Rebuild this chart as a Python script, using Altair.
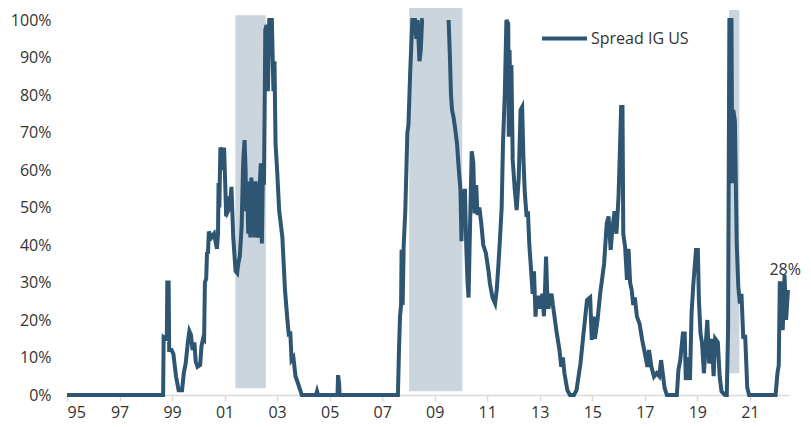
import altair as alt
import pandas as pd

# ---- data ----
seg1_year = [1995.0, 1998.66, 1998.68, 1998.80, 1998.82, 1998.87, 1998.89, 1998.98, 1999.05, 1999.15,
             1999.25, 1999.38, 1999.45, 1999.52, 1999.60, 1999.66, 1999.72, 1999.78, 1999.85, 1999.90,
             1999.97, 2000.07, 2000.12, 2000.18, 2000.22, 2000.25, 2000.30, 2000.33, 2000.37, 2000.40,
             2000.50, 2000.60, 2000.68, 2000.71, 2000.75, 2000.77, 2000.80, 2000.84, 2000.90, 2000.95,
             2000.98, 2001.03, 2001.06, 2001.10, 2001.13, 2001.20, 2001.26, 2001.30, 2001.33, 2001.38,
             2001.42, 2001.48, 2001.52, 2001.58, 2001.65, 2001.70, 2001.72, 2001.76, 2001.80, 2001.82,
             2001.86, 2001.90, 2001.94, 2001.98, 2002.02, 2002.06, 2002.10, 2002.14, 2002.18, 2002.22,
             2002.27, 2002.33, 2002.38, 2002.42, 2002.46, 2002.50, 2002.53, 2002.55, 2002.60, 2002.65,
             2002.70, 2002.80, 2002.86, 2002.90, 2002.94, 2003.00, 2003.08, 2003.15, 2003.20, 2003.25,
             2003.30, 2003.38, 2003.45, 2003.50, 2003.55, 2003.62, 2003.70, 2003.80, 2003.94, 2004.48,
             2004.52, 2004.56, 2005.30, 2005.32, 2005.36, 2005.38, 2007.60, 2007.64, 2007.68, 2007.72,
             2007.74, 2007.78, 2007.82, 2007.88, 2007.93, 2007.96, 2008.00, 2008.07, 2008.12, 2008.15,
             2008.25, 2008.30, 2008.35, 2008.42, 2008.47, 2008.52, 2008.58]
seg1_val = [0, 0, 15.5, 15, 30, 30, 12, 12, 11, 5,
            1.3, 1.3, 6, 8.5, 14, 17, 16, 12, 14, 9,
            7.5, 8, 13, 15, 14.7, 30, 31, 37.8, 38, 43.6,
            42, 43, 40, 39, 43, 56.5, 50, 66, 65, 60,
            66, 55, 47.6, 53, 49, 50, 55.5, 48, 42, 37,
            33, 32.5, 35, 37, 45, 60, 63.5, 68, 60, 49,
            57, 43, 55, 42, 58, 46, 54, 42, 57, 44,
            42, 55, 61.8, 40.4, 60, 56, 80, 97.3, 98.7, 81,
            100, 100, 81, 89, 67, 60, 49, 45, 42, 35,
            28, 21, 15.6, 17, 9.3, 10, 5, 3, 0, 0,
            1, 0, 0, 5.3, 3, 0, 0, 12, 21, 24,
            38.7, 24, 40, 49, 62, 70, 72, 86.7, 95, 100,
            100, 95, 100, 89, 92, 100, 100]

seg2_year = [2009.53, 2009.58, 2009.62, 2009.66, 2009.72, 2009.78, 2009.85, 2009.92, 2009.98, 2010.02,
             2010.06, 2010.10, 2010.15, 2010.20, 2010.25, 2010.29, 2010.33, 2010.41, 2010.47, 2010.52,
             2010.58, 2010.63, 2010.70, 2010.77, 2010.85, 2010.95, 2011.05, 2011.10, 2011.20, 2011.30,
             2011.36, 2011.42, 2011.48, 2011.55, 2011.60, 2011.67, 2011.73, 2011.80, 2011.82, 2011.85,
             2011.88, 2011.92, 2011.97, 2012.05, 2012.12, 2012.20, 2012.27, 2012.33, 2012.38, 2012.43,
             2012.50, 2012.55, 2012.60, 2012.67, 2012.73, 2012.78, 2012.84, 2012.88, 2012.92, 2012.97,
             2013.03, 2013.10, 2013.16, 2013.20, 2013.24, 2013.28, 2013.33, 2013.38, 2013.45, 2013.50,
             2013.56, 2013.63, 2013.75, 2013.82, 2013.88, 2013.94, 2014.05, 2014.15, 2014.30, 2014.40,
             2014.55, 2014.68, 2014.80, 2014.92, 2014.98, 2015.05, 2015.10, 2015.20, 2015.30, 2015.45,
             2015.55, 2015.62, 2015.70, 2015.76, 2015.85, 2015.92, 2016.00, 2016.10, 2016.15, 2016.18,
             2016.25, 2016.32, 2016.38, 2016.44, 2016.50, 2016.56, 2016.62, 2016.70, 2016.80, 2016.90,
             2017.00, 2017.10, 2017.16, 2017.25, 2017.35, 2017.45, 2017.55, 2017.62, 2017.68, 2017.75,
             2017.84, 2018.22, 2018.28, 2018.35, 2018.45, 2018.52, 2018.56, 2018.65, 2018.72, 2018.78,
             2018.85, 2018.95, 2019.02, 2019.06, 2019.12, 2019.18, 2019.25, 2019.38, 2019.45, 2019.55,
             2019.62, 2019.68, 2019.78, 2019.85, 2019.92, 2020.05, 2020.12, 2020.17, 2020.22, 2020.30,
             2020.33, 2020.37, 2020.43, 2020.50, 2020.56, 2020.62, 2020.68, 2020.75, 2020.82, 2020.90,
             2020.97, 2021.98, 2022.05, 2022.10, 2022.14, 2022.20, 2022.25, 2022.32, 2022.38, 2022.45]
seg2_val = [100, 90, 80, 76, 74, 71, 67, 60, 54.7, 41,
            54.7, 45.8, 55, 40, 30, 26, 40, 65, 62, 48.4,
            56, 48, 50, 46, 40, 37.8, 33, 29.8, 26, 24.4,
            28, 34, 41, 50, 67, 80.5, 100, 99, 68.9, 92,
            77.9, 88, 62.7, 54.7, 49.3, 58, 76, 76.8, 62.7, 54,
            47.5, 49, 40.4, 33.3, 27, 33, 20.9, 26, 23, 26.5,
            23, 27, 21, 28, 36.9, 28, 23, 25.5, 27, 24,
            21, 17.3, 12, 7.5, 10, 5.8, 1.3, 0, 0, 1.3,
            8.4, 17.3, 25.3, 26, 14.7, 20.9, 15, 20, 27, 35,
            45.8, 47.6, 38.7, 44, 49, 43, 53, 76.8, 76.8, 43,
            39.5, 30.7, 39, 30, 28, 24, 26, 20.9, 19, 14.7,
            11.2, 7.5, 12, 7.5, 4.9, 5.8, 5, 9.3, 6, 2,
            0, 0, 6.7, 9.3, 16.4, 16.4, 4, 10, 4, 21.8,
            29.8, 38.7, 38.7, 25.3, 16.4, 13.8, 5.8, 20, 8.4, 15,
            5, 15, 14, 5, 1, 0, 0, 17.3, 100, 100,
            56.5, 76, 73, 40.4, 28.9, 24.4, 27, 15, 16, 2,
            0, 0, 5.8, 8, 29.8, 29.8, 17.3, 32, 20, 28]

shade_start = [2001.41, 2008.03, 2020.21]
shade_end = [2002.57, 2010.05, 2020.60]
shade_lo = [1.8, 1.0, 5.8]
shade_hi = [101.3, 105.3, 102.7]

x_ticks = list(range(1995, 2022, 2))
y_ticks = list(range(0, 101, 10))
series_name = "Spread IG US"
last_label = "28%"

FONT = "Open Sans"
LINE_COLOR = "#2E5571"
SHADE_COLOR = "#CBD5DD"
TEXT_COLOR = "#333333"

line_df = pd.DataFrame({
    "year": seg1_year + seg2_year,
    "value": seg1_val + seg2_val,
    "seg": [1] * len(seg1_year) + [2] * len(seg2_year),
    "series": series_name,
})
shade_df = pd.DataFrame({"x1": shade_start, "x2": shade_end, "y1": shade_lo, "y2": shade_hi})
label_df = pd.DataFrame({"year": [seg2_year[-1]], "value": [seg2_val[-1]], "txt": [last_label]})

x_scale = alt.Scale(domain=[1995, 2022.49], nice=False, zero=False)
y_scale = alt.Scale(domain=[0, 100], nice=False)

x_axis = alt.Axis(values=x_ticks, labelExpr="substring(toString(datum.value), 2, 4)",
                  title=None, grid=False, domainColor="#D9D9D9", domainWidth=1.5,
                  tickColor="#D9D9D9", tickWidth=1.5, tickSize=6, labelPadding=3,
                  labelOverlap=False, labelFontSize=16, labelFont=FONT, labelColor=TEXT_COLOR)
y_axis = alt.Axis(values=y_ticks, tickCount=11, labelExpr="datum.value + '%'", title=None,
                  grid=False, domain=False, ticks=False, labelPadding=16, labelOverlap=False,
                  labelFontSize=16, labelFont=FONT, labelColor=TEXT_COLOR)

shades = alt.Chart(shade_df).mark_rect(color=SHADE_COLOR).encode(
    x=alt.X("x1:Q", scale=x_scale, axis=x_axis),
    x2="x2:Q",
    y=alt.Y("y1:Q", scale=y_scale, axis=y_axis),
    y2="y2:Q",
)

line = alt.Chart(line_df).mark_line(strokeWidth=4, strokeJoin="miter", strokeCap="butt").encode(
    x=alt.X("year:Q", scale=x_scale, axis=x_axis),
    y=alt.Y("value:Q", scale=y_scale, axis=y_axis),
    detail="seg:N",
    color=alt.Color("series:N", scale=alt.Scale(range=[LINE_COLOR]),
                    legend=alt.Legend(title=None, orient="none", legendX=473, legendY=-6,
                                      symbolType="stroke", symbolSize=2025, symbolStrokeWidth=4,
                                      labelFontSize=16, labelFont=FONT, labelColor=TEXT_COLOR,
                                      labelOffset=2)),
)

label = alt.Chart(label_df).mark_text(font=FONT, fontSize=16, color=TEXT_COLOR, align="right",
                                      baseline="bottom", dx=13, dy=-12).encode(
    x=alt.X("year:Q", scale=x_scale, axis=x_axis),
    y=alt.Y("value:Q", scale=y_scale, axis=y_axis),
    text="txt:N",
)

chart = alt.layer(shades, line, label).properties(
    width=722, height=375,
    autosize=alt.AutoSizeParams(type="none"),
    padding={"left": 59, "top": 12, "right": 14, "bottom": 30},
).configure_view(strokeWidth=0).configure_axisY(labelOverlap=False)

chart.save("out.html", embed_options={"renderer": "svg", "actions": False})
